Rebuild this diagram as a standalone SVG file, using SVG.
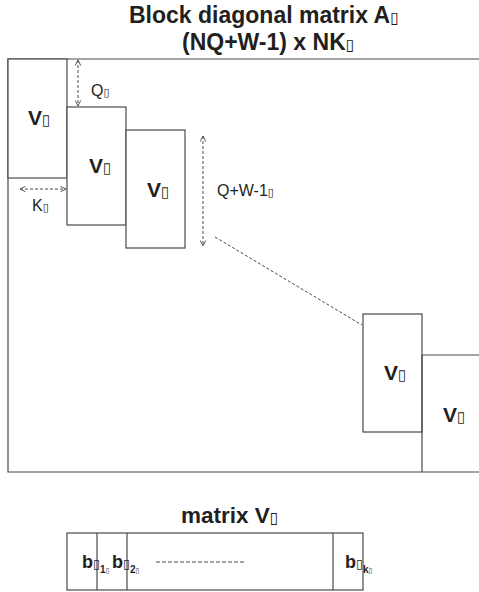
<svg xmlns="http://www.w3.org/2000/svg" width="479" height="592" viewBox="0 0 479 592">
<style>
.ln{fill:none;stroke:#4a4a4a;stroke-width:1.2}
.blk{fill:#fff;stroke:#4a4a4a;stroke-width:1.2}
.dash{fill:none;stroke:#4a4a4a;stroke-width:1;stroke-dasharray:3,2}
.t{font-family:"Liberation Sans",Arial,sans-serif;fill:#231f20}
.title{font-size:23px;font-weight:bold}
.v{font-size:21px;font-weight:bold}
.lab{font-size:16px}
.sub{font-size:10px;font-weight:bold}
.tf{font-family:"DejaVu Sans",sans-serif;font-weight:normal;font-size:0.7em}
</style>
<defs>
<marker id="ah" viewBox="0 0 10 10" refX="9" refY="5" markerWidth="7" markerHeight="7" orient="auto-start-reverse" markerUnits="userSpaceOnUse">
<path d="M1,1 L9,5 L1,9" fill="none" stroke="#4a4a4a" stroke-width="1.3"/>
</marker>
</defs>
<g id="title">
<text class="t title" x="129" y="23">Block diagonal matrix A<tspan class="tf">&#x25AF;</tspan></text>
<text class="t title" x="182" y="50">(NQ+W-1) x NK<tspan class="tf">&#x25AF;</tspan></text>
</g>
<g id="frame">
<path class="ln" d="M479,59 H8 V472 H479"/>
</g>
<g id="block1">
<rect class="blk" x="8" y="59" width="59" height="119"/>
<text class="t v" x="28" y="125">V<tspan class="tf">&#x25AF;</tspan></text>
</g>
<g id="block2">
<rect class="blk" x="67" y="107" width="59" height="118"/>
<text class="t v" x="89" y="173">V<tspan class="tf">&#x25AF;</tspan></text>
</g>
<g id="block3">
<rect class="blk" x="126" y="130" width="59" height="118"/>
<text class="t v" x="147" y="197">V<tspan class="tf">&#x25AF;</tspan></text>
</g>
<g id="block4">
<rect class="blk" x="363" y="314" width="59" height="118"/>
<text class="t v" x="384" y="380">V<tspan class="tf">&#x25AF;</tspan></text>
</g>
<g id="block5">
<path class="ln" d="M479,355 H422 V472"/>
<text class="t v" x="443" y="422">V<tspan class="tf">&#x25AF;</tspan></text>
</g>
<g id="labels">
<text class="t lab" x="91" y="96">Q<tspan class="tf">&#x25AF;</tspan></text>
<text class="t lab" x="32" y="211">K<tspan class="tf">&#x25AF;</tspan></text>
<text class="t lab" x="217" y="196">Q+W-1<tspan class="tf">&#x25AF;</tspan></text>
</g>
<g id="connectors">
<line class="dash" x1="78" y1="60" x2="78" y2="106" marker-start="url(#ah)" marker-end="url(#ah)"/>
<line class="dash" x1="20" y1="189" x2="66" y2="189" marker-start="url(#ah)" marker-end="url(#ah)"/>
<line class="dash" x1="203" y1="136" x2="203" y2="246" marker-start="url(#ah)" marker-end="url(#ah)"/>
<line class="dash" x1="215" y1="237" x2="362" y2="325"/>
</g>
<g id="matrixV">
<text class="t title" x="181" y="523" style="font-size:22.5px">matrix V<tspan class="tf">&#x25AF;</tspan></text>
<rect class="blk" x="67" y="533" width="296" height="57"/>
<line class="ln" x1="97" y1="533" x2="97" y2="590"/>
<line class="ln" x1="127" y1="533" x2="127" y2="590"/>
<line class="ln" x1="333" y1="533" x2="333" y2="590"/>
<line class="dash" x1="156" y1="562" x2="245" y2="562" style="stroke-dasharray:4,2"/>
<text class="t v" x="82" y="568" style="font-size:18px">b<tspan class="tf">&#x25AF;</tspan><tspan class="sub" dy="5">1<tspan class="tf">&#x25AF;</tspan></tspan></text>
<text class="t v" x="112" y="568" style="font-size:18px">b<tspan class="tf">&#x25AF;</tspan><tspan class="sub" dy="5">2<tspan class="tf">&#x25AF;</tspan></tspan></text>
<text class="t v" x="345" y="568" style="font-size:18px">b<tspan class="tf">&#x25AF;</tspan><tspan class="sub" dy="5">k<tspan class="tf">&#x25AF;</tspan></tspan></text>
</g>
</svg>
